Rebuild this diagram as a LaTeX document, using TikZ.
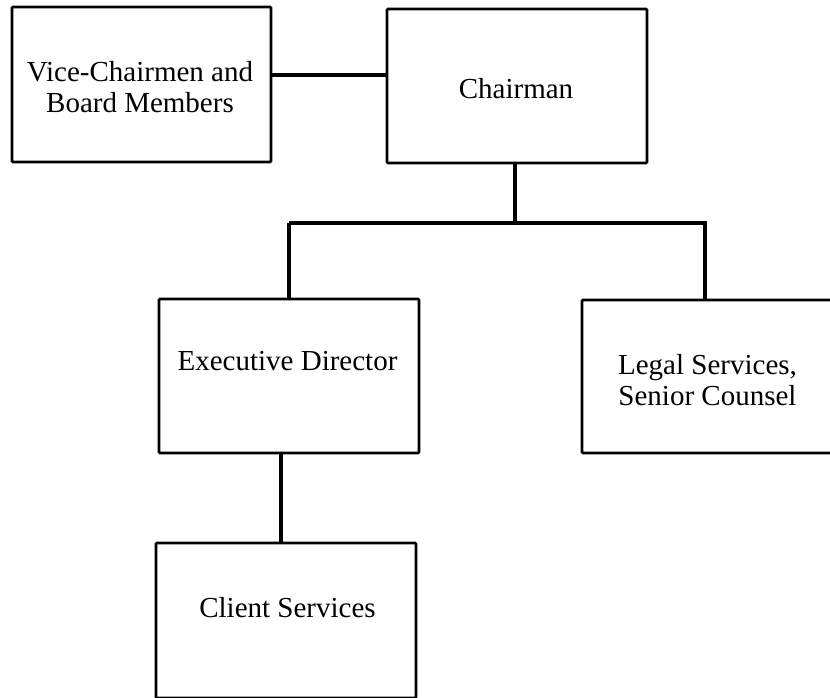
\documentclass[tikz,border=0pt]{standalone}
\usepackage{fontspec}
\setmainfont{Liberation Serif}
\begin{document}
\begin{tikzpicture}[x=1pt,y=-1pt,
  box/.style n args={2}{draw, line width=2.8pt, rounded corners=1pt, minimum width=#1pt, minimum height=#2pt, inner sep=0pt},
  lbl/.style={align=center, inner sep=0pt, font=\fontsize{29}{31}\selectfont},
  conn/.style={line width=3.5pt}]
\useasboundingbox (0,0) rectangle (830,697);
\clip (0,0) rectangle (830,697);
\fill[white] (0,0) rectangle (830,697);
% boxes
\node[box={259}{155}] (vc) at (141.5,84.5) {};
\node[box={260}{154}] (ch) at (517,86) {};
\node[box={260}{154}] (ex) at (289,376) {};
\node[box={260}{153}] (lg) at (712,376.5) {};
\node[box={260}{155}] (cl) at (286,620.5) {};
% labels
\node[lbl] (vct) at (140,87) {Vice-Chairmen and\\Board Members};
\node[lbl] (cht) at (516,89) {Chairman};
\node[lbl] (ext) at (287.5,361) {Executive Director};
\node[lbl] (lgt) at (707.5,380) {Legal Services,\\Senior Counsel};
\node[lbl] (clt) at (287.5,608) {Client Services};
% connectors
\coordinate (j) at (515,223);
\draw[conn] (vc.east |- 0,75) -- (ch.west |- 0,75);
\draw[conn] (j |- ch.south) -- (j);
\draw[conn] (ex.north |- j) -- (705,223) -- (705,0 |- lg.north);
\draw[conn] (ex.north |- j) -- (ex.north);
\draw[conn] (281,0 |- ex.south) -- (281,0 |- cl.north);
\end{tikzpicture}
\end{document}
